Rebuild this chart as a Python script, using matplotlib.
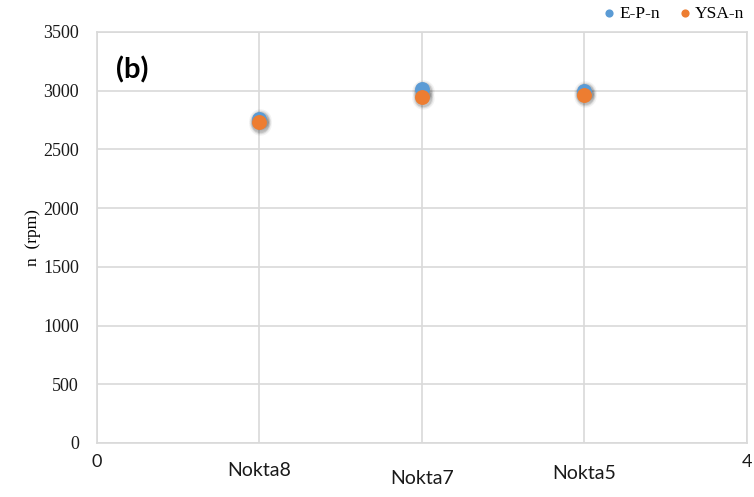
import matplotlib
matplotlib.use("Agg")
import matplotlib.pyplot as plt

# Data
categories = ["Nokta8", "Nokta7", "Nokta5"]
x_pos = [1, 2, 3]
ep_n = [2760, 3010, 3000]
ysa_n = [2730, 2950, 2965]
y_ticks = [0, 500, 1000, 1500, 2000, 2500, 3000, 3500]

blue = "#5b9bd5"
orange = "#ed7d31"
grid_c = "#d9d9d9"

fig = plt.figure(figsize=(7.54, 4.97), dpi=100)
ax = fig.add_axes([0.1286, 0.1087, 0.862, 0.827])

ax.set_xlim(0, 4)
ax.set_ylim(0, 3500)
ax.set_yticks(y_ticks)
ax.set_yticklabels([str(v) for v in y_ticks], fontfamily="Liberation Serif", fontsize=13)
ax.set_xticks([0, 1, 2, 3, 4])
ax.set_xticklabels(["0", "", "", "", "4"], fontfamily="Lato", fontsize=13)
ax.tick_params(length=0, pad=8, colors="#1a1a1a")
ax.tick_params(axis="y", pad=13)
ax.grid(True, color=grid_c, linewidth=1.2)
ax.set_axisbelow(True)
for s in ax.spines.values():
    s.set_color(grid_c)
    s.set_linewidth(1.2)

# soft shadow under markers
for series in (ep_n, ysa_n):
    for size, a in ((260, 0.05), (200, 0.08), (160, 0.12)):
        ax.scatter([x + 0.004 for x in x_pos], [v - 12 for v in series], s=size,
                   color="black", alpha=a, linewidths=0, zorder=2)

ax.scatter(x_pos, ep_n, s=115, color=blue, linewidths=0, zorder=3, label="E-P-n")
ax.scatter(x_pos, ysa_n, s=115, color=orange, linewidths=0, zorder=4, label="YSA-n")

# category labels below the axis
offsets = [-0.047, -0.066, -0.054]
for x, lab, off in zip(x_pos, categories, offsets):
    ax.text(x, off, lab, transform=ax.get_xaxis_transform(), ha="center", va="top",
            fontfamily="Lato", fontsize=14, color="#1a1a1a")

ax.set_ylabel("n  (rpm)", fontfamily="Liberation Serif", fontsize=12.5)
ax.yaxis.set_label_coords(-0.086, 0.5)

ax.text(0.03, 0.94, "(b)", transform=ax.transAxes, fontfamily="Lato",
        fontweight="bold", fontsize=21, va="top", ha="left")

leg = fig.legend(handles=[ax.collections[-2], ax.collections[-1]], loc="upper right",
                 bbox_to_anchor=(1.008, 1.02), ncol=2, frameon=False,
                 prop={"family": "Liberation Serif", "size": 12.5},
                 handletextpad=0.1, columnspacing=0.9, markerscale=0.55,
                 handlelength=1.0)

fig.savefig("out.png", dpi=100)
